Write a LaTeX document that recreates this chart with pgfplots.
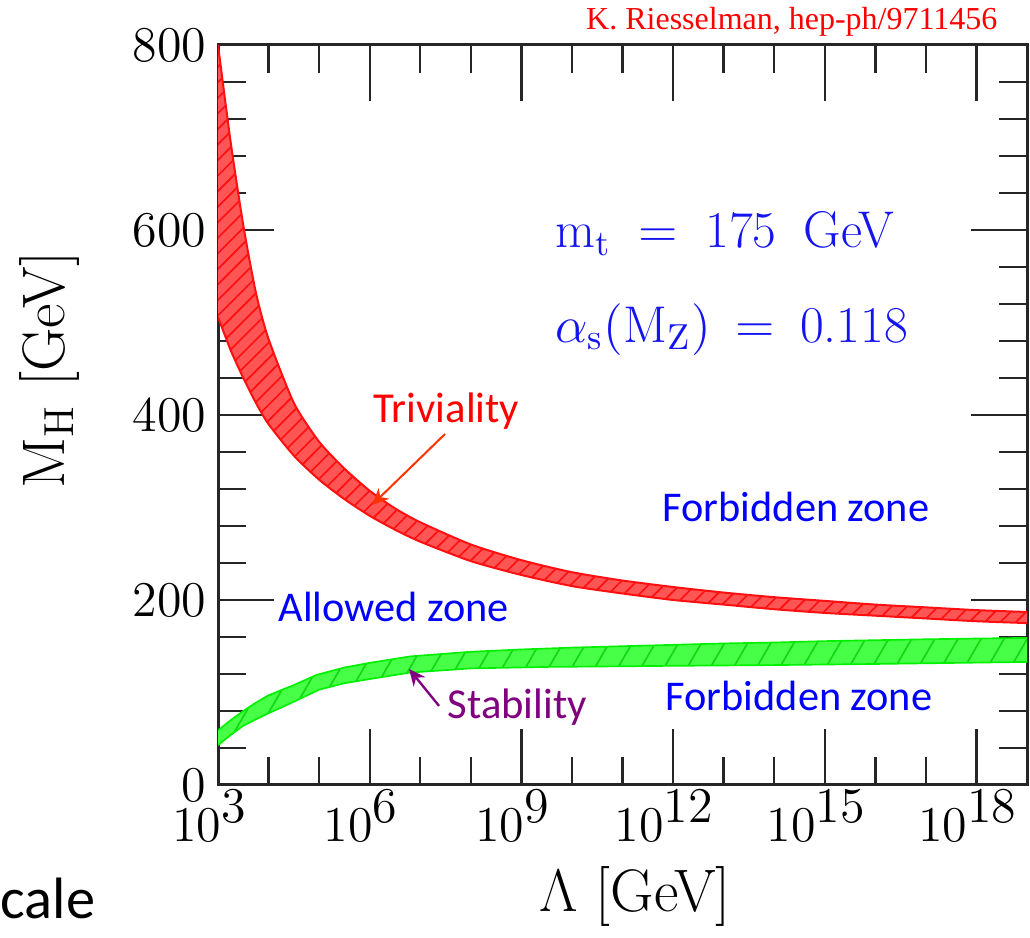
\RequirePackage{fix-cm}
\documentclass[border=0pt]{standalone}
\usepackage{fontspec}
\newfontfamily\slidefont{Carlito}
\newfontfamily\timesfont{Liberation Serif}
\usepackage{pgfplots}
\usepackage{pgfplotstable}
\pgfplotsset{compat=1.18}
\usepgfplotslibrary{fillbetween}
\usetikzlibrary{patterns.meta,arrows.meta}

\definecolor{bandred}{RGB}{255,85,85}
\definecolor{hatchred}{RGB}{255,15,15}
\definecolor{bandgreen}{RGB}{70,255,70}
\definecolor{hatchgreen}{RGB}{20,215,20}
\definecolor{edgegreen}{RGB}{0,240,0}
\definecolor{labelblue}{RGB}{0,0,255}
\definecolor{mathblue}{RGB}{20,20,240}
\definecolor{arrowred}{RGB}{255,50,0}
\definecolor{stabpurple}{RGB}{128,0,128}

% Triviality bound (upper and lower edge of the band), Lambda in GeV
\pgfplotstableread{
L M
1e3 800
1.778e3 695
3.162e3 605
5.623e3 532
1e4 482
3.162e4 413
1e5 371
3.162e5 342
1e6 318
3.162e6 299
1e7 284
1e8 260
1e9 243
1e10 230
1e11 221
1e12 214
1e13 208
1e14 203
1e15 199
1e16 195
1e17 192
1e18 189
1e19 187
}\trivupper
\pgfplotstableread{
L M
1e3 506
1.778e3 470
3.162e3 440
5.623e3 413
1e4 390
3.162e4 356
1e5 330
3.162e5 309
1e6 291
3.162e6 276
1e7 263
1e8 242
1e9 227
1e10 215
1e11 207
1e12 200
1e13 195
1e14 190
1e15 186
1e16 183
1e17 180
1e18 177
1e19 175
}\trivlower
% Vacuum stability bound
\pgfplotstableread{
L M
1e3 59
1.778e3 70
3.162e3 80
5.623e3 89
1e4 97
3.162e4 108
8.913e4 119
3.162e5 127
1e6 132
6.31e6 139
1e8 144
1e9 146.5
1e10 148.5
1e11 150
1e12 151.5
1e13 153
1e14 154
1e15 155.5
1e16 156.5
1e17 157.5
1e18 158.3
1e19 159
}\stabupper
\pgfplotstableread{
L M
1e3 43
1.778e3 54
3.162e3 64
5.623e3 71
1e4 77.5
3.162e4 90
1e5 103
3.162e5 110
1e6 114.5
6.31e6 121.5
1e8 126
3.162e9 127.6
1e11 128.3
1e12 128.8
1e14 129.6
1e16 130.8
1e19 133
}\stablower

\begin{document}
\begin{tikzpicture}
\begin{axis}[
  scale only axis, width=242.7pt, height=222pt,
  xmode=log, xmin=1e3, xmax=1e19, ymin=0, ymax=800,
  xtick={1e3,1e6,1e9,1e12,1e15,1e18},
  xticklabels={$10^{\textstyle 3}$,$10^{\textstyle 6}$,$10^{\textstyle 9}$,
               $10^{\textstyle 12}$,$10^{\textstyle 15}$,$10^{\textstyle 18}$},
  minor xtick={1e4,1e5,1e7,1e8,1e10,1e11,1e13,1e14,1e16,1e17},
  ytick={0,200,400,600,800},
  minor ytick={40,80,...,760},
  tick align=inside, xtick pos=both, ytick pos=both,
  xticklabel pos=bottom, yticklabel pos=left,
  major tick length=16.8pt, minor tick length=8.4pt,
  axis line style={line width=0.9pt, black!85},
  every tick/.style={line width=0.7pt, black!85},
  tick label style={font=\fontsize{15}{18}\selectfont},
  xticklabel style={yshift=1.8pt, xshift=-2.5pt, inner xsep=0pt},
  xlabel={$\Lambda$ [GeV]},
  ylabel={$\mathrm{M_H}$ [GeV]},
  label style={font=\fontsize{18}{21}\selectfont},
  xlabel style={at={(axis description cs:0.5155,-0.1716)}, anchor=base},
  ylabel style={at={(axis description cs:-0.2077,0.5608)}, anchor=center},
  clip mode=individual,
]
% band edges, named for the fills
\addplot[name path=tu, draw=none, smooth, tension=0.4, forget plot] table {\trivupper};
\addplot[name path=tl, draw=none, smooth, tension=0.4, forget plot] table {\trivlower};
\addplot[name path=su, draw=none, forget plot] table {\stabupper};
\addplot[name path=sl, draw=none, forget plot] table {\stablower};

% triviality band
\addplot[fill=bandred, draw=none] fill between[of=tu and tl];
\addplot[draw=none, pattern={Lines[angle=45,distance=3.3pt,line width=0.5pt]}, pattern color=hatchred] fill between[of=tu and tl];
\addplot[draw=hatchred, line width=0.6pt, smooth, tension=0.4] table {\trivupper};
\addplot[draw=hatchred, line width=0.6pt, smooth, tension=0.4] table {\trivlower};

% stability band
\addplot[fill=bandgreen, draw=none] fill between[of=su and sl];
\addplot[draw=none, pattern={Lines[angle=60,distance=6pt,line width=0.5pt]}, pattern color=hatchgreen] fill between[of=su and sl];
\addplot[draw=edgegreen, line width=0.5pt] table {\stabupper};
\addplot[draw=edgegreen, line width=0.5pt] table {\stablower};

% annotations
\node[anchor=base east, inner sep=0, text=red, font=\timesfont\fontsize{9.6}{11}\selectfont]
  at (rel axis cs:0.9642,1.0203) {K. Riesselman, hep-ph/9711456};
\node[anchor=base west, inner sep=0, text=mathblue, font=\fontsize{15.5}{18}\selectfont]
  at (rel axis cs:0.4166,0.7257) {$\mathrm{m_t}$\hspace{8.2pt}$=$\hspace{8.2pt}175\hspace{8.2pt}GeV};
\node[anchor=base west, inner sep=0, text=mathblue, font=\fontsize{15.5}{18}\selectfont]
  at (rel axis cs:0.4166,0.5986) {$\alpha_{\mathrm{s}}(\mathrm{M_Z})$\hspace{7.5pt}$=$\hspace{7.5pt}0.118};

\node[anchor=base west, inner sep=0, text=red, font=\slidefont\fontsize{12.8}{15}\selectfont]
  at (rel axis cs:0.1916,0.4892) {Triviality};
\draw[arrowred, line width=0.6pt, -{Stealth[length=5pt,width=4.5pt]}]
  (rel axis cs:0.2806,0.4743) -- (rel axis cs:0.1904,0.3784);

\node[anchor=base west, inner sep=0, text=labelblue, font=\slidefont\fontsize{12.7}{15}\selectfont]
  at (rel axis cs:0.5488,0.3554) {Forbidden zone};
\node[anchor=base west, inner sep=0, text=labelblue, font=\slidefont\fontsize{12.7}{15}\selectfont]
  at (rel axis cs:0.5525,0.1) {Forbidden zone};
\node[anchor=base west, inner sep=0, text=labelblue, font=\slidefont\fontsize{12.7}{15}\selectfont]
  at (rel axis cs:0.0742,0.2203) {Allowed zone};

\node[anchor=base west, inner sep=0, text=stabpurple, font=\slidefont\fontsize{12.8}{15}\selectfont]
  at (rel axis cs:0.2831,0.0892) {Stability};
\draw[stabpurple, line width=0.7pt, -{Stealth[length=5pt,width=4.5pt]}]
  (rel axis cs:0.2732,0.1068) -- (rel axis cs:0.2361,0.1568);

\node[anchor=base west, inner sep=0, font=\slidefont\fontsize{17.5}{21}\selectfont]
  at (rel axis cs:-0.2695,-0.180) {cale};

% picture frame
\path (rel axis cs:-0.2695,-0.1905) rectangle (rel axis cs:1.0037,1.0608);
\end{axis}
\end{tikzpicture}
\end{document}
